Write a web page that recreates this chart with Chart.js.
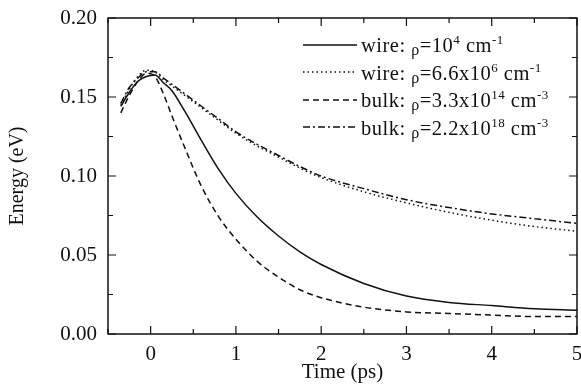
<!DOCTYPE html>
<html>
<head>
<meta charset="utf-8">
<script src="https://cdn.jsdelivr.net/npm/chart.js@4"></script>
<style>
    body { margin: 0; background: #fff; }
    #wrap { position: relative; width: 581px; height: 389px; }
    #legend { position: absolute; left: 303px; top: 31px; font-family: "Liberation Serif", serif; font-size: 20.5px; letter-spacing: 0.5px; color: #111; }
    .row { height: 27.5px; display: flex; align-items: center; white-space: nowrap; }
    .row svg { width: 54px; height: 6px; margin-right: 4px; }
    sup { font-size: 13px; vertical-align: 8px; }
    .rho { font-size: 16px; position: relative; top: 3px; }
</style>
</head>
<body>
<div id="wrap">
    <canvas id="mainChart" width="581" height="389"></canvas>
    <div id="legend"></div>
</div>
<script>
// time grid (ps) shared by all four curves
const time = [-0.35, -0.25, -0.15, -0.05, 0.05, 0.15, 0.25, 0.4, 0.6, 0.8, 1.0, 1.25, 1.5, 1.75, 2.0, 2.5, 3.0, 3.5, 4.0, 4.5, 5.0];

const wireLow  = [0.144, 0.153, 0.160, 0.163, 0.164, 0.159, 0.154, 0.141, 0.122, 0.104, 0.089, 0.074, 0.062, 0.052, 0.044, 0.032, 0.024, 0.020, 0.018, 0.016, 0.015];
const wireHigh = [0.145, 0.155, 0.163, 0.167, 0.166, 0.161, 0.157, 0.151, 0.143, 0.135, 0.127, 0.119, 0.112, 0.105, 0.099, 0.090, 0.083, 0.077, 0.072, 0.068, 0.065];
const bulkLow  = [0.140, 0.151, 0.160, 0.165, 0.163, 0.152, 0.138, 0.118, 0.093, 0.074, 0.060, 0.046, 0.036, 0.028, 0.023, 0.017, 0.014, 0.013, 0.012, 0.011, 0.011];
const bulkHigh = [0.146, 0.156, 0.162, 0.166, 0.166, 0.162, 0.158, 0.152, 0.144, 0.136, 0.128, 0.120, 0.113, 0.106, 0.100, 0.092, 0.085, 0.080, 0.076, 0.073, 0.070];

const xTicks = [0, 1, 2, 3, 4, 5];

const legendLabels = [
    'wire: <span class="rho">ρ</span>=10<sup>4</sup> cm<sup>-1</sup>',
    'wire: <span class="rho">ρ</span>=6.6x10<sup>6</sup> cm<sup>-1</sup>',
    'bulk: <span class="rho">ρ</span>=3.3x10<sup>14</sup> cm<sup>-3</sup>',
    'bulk: <span class="rho">ρ</span>=2.2x10<sup>18</sup> cm<sup>-3</sup>'
];
const dashes = [[], [1.5, 3], [6, 4], [7, 3, 2, 3]];
const series = [wireLow, wireHigh, bulkLow, bulkHigh];

const serif = '"Liberation Serif", "Times New Roman", serif';

function pts(values) {
    return values.map((v, i) => ({ x: time[i], y: v }));
}

const datasets = series.map((s, i) => ({
    label: legendLabels[i],
    data: pts(s),
    borderColor: '#111',
    borderWidth: 1.5,
    borderDash: dashes[i],
    pointRadius: 0,
    fill: false,
    cubicInterpolationMode: 'monotone'
}));

// legend as html so the super/subscripts stay real text
const legend = document.getElementById('legend');
legendLabels.forEach((lab, i) => {
    let row = document.createElement('div');
    row.className = 'row';
    row.innerHTML = '<svg viewBox="0 0 54 6"><line x1="0" y1="3" x2="54" y2="3" stroke="#111" stroke-width="1.5" stroke-dasharray="' +
        (dashes[i].length ? dashes[i].join(' ') : 'none') + '"/></svg><span>' + lab + '</span>';
    legend.appendChild(row);
});

// inward ticks on all four sides plus the box frame
const frame = {
    id: 'frame',
    afterDraw(chart) {
        const ctx = chart.ctx;
        const a = chart.chartArea;
        const xs = chart.scales.x, ys = chart.scales.y;
        ctx.save();
        ctx.strokeStyle = '#111';
        ctx.lineWidth = 1.5;
        ctx.strokeRect(a.left, a.top, a.right - a.left, a.bottom - a.top);
        ctx.lineWidth = 1.2;
        ctx.beginPath();
        for (let k = -1; k <= 10; k++) {
            const v = k * 0.5;
            const px = xs.getPixelForValue(v);
            const len = k % 2 === 0 ? 8 : 5;
            ctx.moveTo(px, a.bottom); ctx.lineTo(px, a.bottom - len);
            ctx.moveTo(px, a.top); ctx.lineTo(px, a.top + len);
        }
        for (let k = 0; k <= 8; k++) {
            const py = ys.getPixelForValue(k * 0.025);
            const len = k % 2 === 0 ? 8 : 5;
            ctx.moveTo(a.left, py); ctx.lineTo(a.left + len, py);
            ctx.moveTo(a.right, py); ctx.lineTo(a.right - len, py);
        }
        ctx.stroke();
        ctx.restore();
    }
};

new Chart(document.getElementById('mainChart'), {
    type: 'line',
    data: { datasets: datasets },
    options: {
        responsive: false,
        animation: false,
        layout: { padding: { top: 18, right: 4, left: 0, bottom: 0 } },
        plugins: {
            legend: { display: false },
            tooltip: { enabled: false }
        },
        scales: {
            x: {
                type: 'linear',
                min: -0.5,
                max: 5,
                grid: { display: false },
                border: { display: false },
                afterBuildTicks(scale) {
                    scale.ticks = xTicks.map(v => ({ value: v }));
                },
                ticks: {
                    color: '#111',
                    font: { family: serif, size: 21 },
                    padding: 0,
                    maxRotation: 0,
                    autoSkip: false
                },
                title: {
                    display: true,
                    text: 'Time (ps)',
                    color: '#111',
                    font: { family: serif, size: 21 },
                    padding: { top: 0 }
                },
                afterFit(scale) {
                    scale.height = 55;
                    scale.paddingRight = 0;
                }
            },
            y: {
                min: 0,
                max: 0.2,
                grid: { display: false },
                border: { display: false },
                ticks: {
                    stepSize: 0.05,
                    color: '#111',
                    font: { family: serif, size: 21 },
                    padding: 3,
                    callback: v => v.toFixed(2)
                },
                title: {
                    display: true,
                    text: 'Energy (eV)',
                    color: '#111',
                    font: { family: serif, size: 20 },
                    padding: { top: 6, bottom: 2 }
                },
                afterFit(scale) {
                    scale.width = 108;
                }
            }
        }
    },
    plugins: [frame]
});
</script>
</body>
</html>
